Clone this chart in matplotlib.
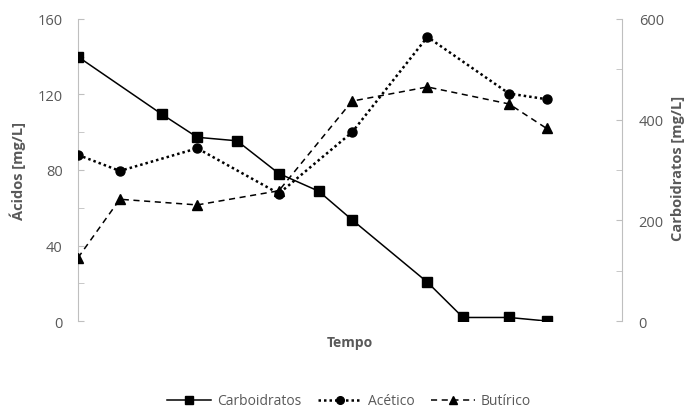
import matplotlib
matplotlib.use("Agg")
import matplotlib.pyplot as plt
from matplotlib.ticker import MultipleLocator
from matplotlib.lines import Line2D

plt.rcParams['font.family'] = ['Open Sans', 'DejaVu Sans']

# Data (time in arbitrary units; x axis has no ticks)
tempo_carb = [0, 2, 2.85, 3.8, 4.8, 5.75, 6.55, 8.35, 9.2, 10.3, 11.2]
carboidratos = [525, 411, 365, 358, 293, 258, 201, 77, 7, 7, 0]

tempo_acidos = [0, 1, 2.85, 4.8, 6.55, 8.35, 10.3, 11.2]
acetico = [88, 79.5, 91.5, 67.5, 100, 150.5, 120.5, 117.5]
butirico = [33.5, 64.5, 61.5, 69, 116.5, 124, 115, 102]

gray_txt = '#595959'
gray_ax = '#bfbfbf'

fig = plt.figure(figsize=(6.88, 4.10), dpi=100)
ax = fig.add_axes([78/688, 1-322/410, (622-78)/688, (322-20)/410])
ax2 = ax.twinx()

ax.plot(tempo_acidos, acetico, color='black', linestyle=(0, (1, 1.2)), linewidth=1.8,
        marker='o', markersize=6.5, label='Acético', zorder=3)
ax.plot(tempo_acidos, butirico, color='black', linestyle=(0, (4, 3)), linewidth=1.1,
        marker='^', markersize=6.5, label='Butírico', zorder=3)
ax2.plot(tempo_carb, carboidratos, color='black', linestyle='-', linewidth=1.1,
         marker='s', markersize=6.5, label='Carboidratos', zorder=3)

ax.set_xlim(0, 13)
ax.set_ylim(0, 160)
ax2.set_ylim(0, 600)
ax.yaxis.set_major_locator(MultipleLocator(40))
ax.yaxis.set_minor_locator(MultipleLocator(20))
ax2.yaxis.set_major_locator(MultipleLocator(200))
ax2.yaxis.set_minor_locator(MultipleLocator(100))

for a in (ax, ax2):
    for s in ['top', 'bottom']:
        a.spines[s].set_visible(False)
    a.spines['left'].set_color(gray_ax)
    a.spines['right'].set_color(gray_ax)
    a.tick_params(axis='y', which='both', direction='in', length=4, color=gray_ax,
                  labelcolor=gray_txt, labelsize=10.5)
    a.tick_params(axis='x', bottom=False, labelbottom=False)
ax.spines['right'].set_visible(False)
ax2.spines['left'].set_visible(False)
ax.tick_params(axis='y', pad=11)
ax2.tick_params(axis='y', pad=12)

ax.set_xlabel('Tempo', fontsize=10, fontweight='bold', color=gray_txt, labelpad=10)
fig.text(18/688, 1-171/410, 'Ácidos [mg/L]', rotation=90, ha='center', va='center',
         fontsize=10.5, fontweight='bold', color=gray_txt)
fig.text(678/688, 1-168/410, 'Carboidratos [mg/L]', rotation=90, ha='center', va='center',
         fontsize=10.5, fontweight='bold', color=gray_txt)

handles = [
    Line2D([], [], color='black', linestyle='-', linewidth=1.1, marker='s', markersize=5.5),
    Line2D([], [], color='black', linestyle=(0, (1, 1.2)), linewidth=1.8, marker='o', markersize=5.5),
    Line2D([], [], color='black', linestyle=(0, (4, 3)), linewidth=1.1, marker='^', markersize=5.5),
]
fig.legend(handles, ['Carboidratos', 'Acético', 'Butírico'], loc='center',
           bbox_to_anchor=(349/688, 1-402/410), ncol=3, frameon=False,
           fontsize=10, labelcolor=gray_txt, handlelength=3.2, handletextpad=0.4,
           columnspacing=1.2)

fig.savefig('out.png', dpi=100)
